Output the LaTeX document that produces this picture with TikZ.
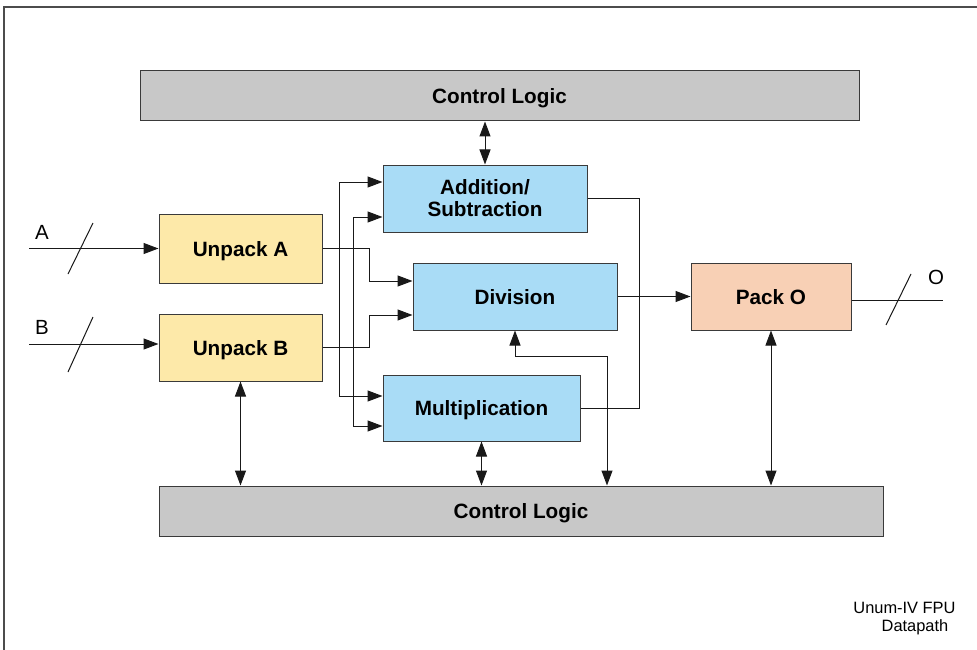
\documentclass[tikz,border=0pt]{standalone}
\usepackage{fontspec}
\setmainfont{Liberation Sans}
\usetikzlibrary{arrows.meta}

\definecolor{ctlgray}{HTML}{C8C8C8}
\definecolor{unpackyel}{HTML}{FDE9A9}
\definecolor{opblue}{HTML}{A9DCF6}
\definecolor{packorg}{HTML}{F8D0B5}
\definecolor{edgegray}{HTML}{3A3A3A}

\tikzset{
  block/.style={draw=edgegray, line width=1pt, rectangle, inner sep=0pt,
    align=center, font=\fontsize{20.7}{22}\selectfont\bfseries},
  oneline/.style={text depth=0pt},
  wire/.style={draw=black!90, line width=1pt},
  tip/.tip={Triangle[length=15pt,width=11pt]},
  arr/.style={wire, -tip},
  dbl/.style={wire, tip-tip},
  sig/.style={font=\fontsize{20.5}{22}\selectfont, inner sep=0pt},
  frame/.style={draw=black!70, line width=1.4pt},
}

\begin{document}
\begin{tikzpicture}[x=1pt, y=-1pt]
  \useasboundingbox (0,0) rectangle (977,650);
  \draw[frame] (4,652) -- (4,7) -- (979,7);

  % blocks
  \node[block, oneline, fill=ctlgray, minimum width=719pt, minimum height=50pt] (ctltop) at (499.5,96) {Control Logic};
  \node[block, fill=opblue, minimum width=204pt, minimum height=67pt] (add) at (485,198.5) {Addition/\\Subtraction};
  \node[block, oneline, fill=unpackyel, minimum width=163pt, minimum height=69pt] (ua) at (240.5,248.5) {Unpack A};
  \node[block, oneline, fill=opblue, minimum width=204pt, minimum height=67pt] (div) at (515,296.5) {Division};
  \node[block, oneline, fill=packorg, minimum width=160pt, minimum height=67pt] (pack) at (771,296.5) {Pack O};
  \node[block, oneline, fill=unpackyel, minimum width=163pt, minimum height=67pt] (ub) at (240.5,347.5) {Unpack B};
  \node[block, oneline, fill=opblue, minimum width=197pt, minimum height=66pt] (mul) at (481.5,408) {Multiplication};
  \node[block, oneline, fill=ctlgray, minimum width=724pt, minimum height=50pt] (ctlbot) at (521,511) {Control Logic};

  % operand A input bus
  \coordinate (inA) at (29,248.5);
  \draw[arr] (inA) -- (ua.west);
  \draw[wire] (68,274) -- (93,223);
  \node[sig] (labA) at (42,232) {A};

  % operand B input bus
  \coordinate (inB) at (29,344);
  \draw[arr] (inB) -- ([yshift=3.5pt]ub.west);
  \draw[wire] (68,372) -- (93,317);
  \node[sig] (labB) at (42,327) {B};

  % result output bus
  \coordinate (outO) at (943,300);
  \draw[wire] ([yshift=-3.5pt]pack.east) -- (outO);
  \draw[wire] (886,325) -- (911,274);
  \node[sig] (labO) at (936,277) {O};

  % unpacked A fan-out
  \draw[arr] (ua.east) -- (339,248.5) |- ([yshift=16.5pt]add.west);
  \draw[arr] (339,248.5) |- ([yshift=12pt]mul.west);
  \draw[arr] (ua.east) -- (369,248.5) |- ([yshift=15.5pt]div.west);

  % unpacked B fan-out
  \draw[arr] (ub.east) -- (353,347.5) |- ([yshift=-18.5pt]add.west);
  \draw[arr] (353,347.5) |- ([yshift=-18pt]mul.west);
  \draw[arr] (ub.east) -- (369,347.5) |- ([yshift=-18.5pt]div.west);

  % results into the packer
  \draw[wire] (add.east) -- (639,198.5) |- (mul.east);
  \draw[arr] (div.east) -- (pack.west);

  % control connections
  \draw[dbl] (add.north) -- (add.north |- ctltop.south);
  \draw[dbl] (ub.south) -- (ub.south |- ctlbot.north);
  \draw[dbl] (mul.south) -- (mul.south |- ctlbot.north);
  \draw[dbl] (pack.south) -- (pack.south |- ctlbot.north);
  \coordinate (divctl) at (607,356);
  \draw[dbl] (div.south) |- (divctl) -- (divctl |- ctlbot.north);

  % caption
  \node[font=\fontsize{16.4}{18}\selectfont, inner sep=0pt] (cap1) at (904.5,608) {Unum-IV FPU};
  \node[font=\fontsize{16.4}{18}\selectfont, inner sep=0pt] (cap2) at (915,627) {Datapath};
\end{tikzpicture}
\end{document}
